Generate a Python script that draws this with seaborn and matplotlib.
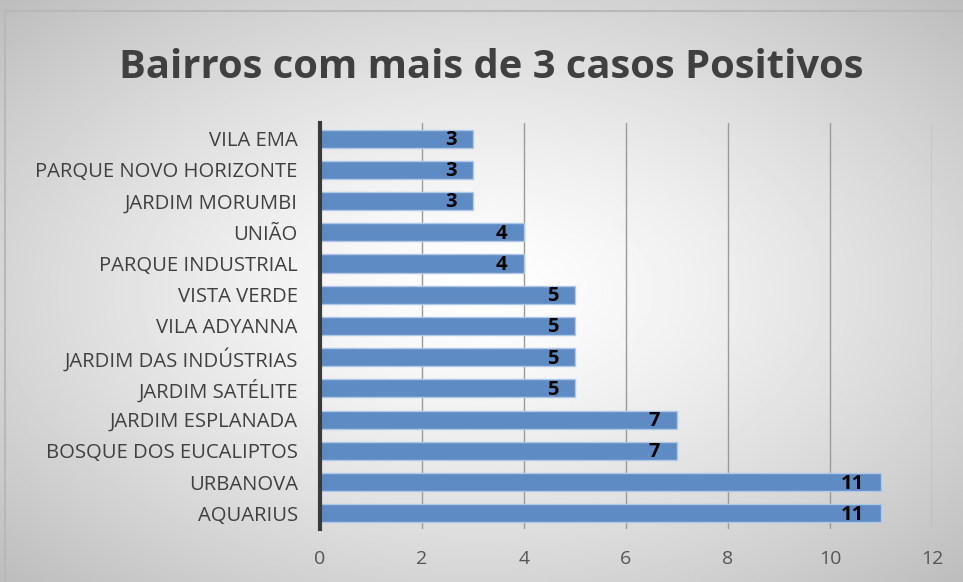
import numpy as np
import pandas as pd
import matplotlib
matplotlib.use("Agg")
import matplotlib.pyplot as plt
import seaborn as sns

# ── dados ─────────────────────────────────────────────
BAIRROS = [
    "VILA EMA", "PARQUE NOVO HORIZONTE", "JARDIM MORUMBI", "UNIÃO",
    "PARQUE INDUSTRIAL", "VISTA VERDE", "VILA ADYANNA", "JARDIM DAS INDÚSTRIAS",
    "JARDIM SATÉLITE", "JARDIM ESPLANADA", "BOSQUE DOS EUCALIPTOS",
    "URBANOVA", "AQUARIUS",
]
CASOS = [3, 3, 3, 4, 4, 5, 5, 5, 5, 7, 7, 11, 11]
XTICKS = [0, 2, 4, 6, 8, 10, 12]

TITULO = "Bairros com mais de 3 casos Positivos"
FONTE = ["Open Sans", "DejaVu Sans"]

sns.set_style("white")
plt.rcParams["font.family"] = FONTE

df = pd.DataFrame({"bairro": BAIRROS, "casos": CASOS})

fig = plt.figure(figsize=(9.63, 5.82), dpi=100)

# fundo com gradiente radial (branco no centro, cinza nas bordas)
bg = fig.add_axes([0, 0, 1, 1], zorder=-10)
yy, xx = np.mgrid[-1:1:300j, -1:1:500j]
r = np.sqrt(xx ** 2 + yy ** 2) / np.sqrt(2)
bg.imshow(1 - 0.26 * r ** 1.3, cmap="gray", vmin=0, vmax=1,
          extent=[0, 1, 0, 1], aspect="auto")
bg.plot([0.005, 0.005, 1.0], [0.0, 0.981, 0.981], color="#b8b8b8", lw=1.5)
bg.set_xlim(0, 1)
bg.set_ylim(0, 1)
bg.axis("off")

ax = fig.add_axes([0.3323, 0.0911, 0.6355, 0.6976])
ax.patch.set_alpha(0)
sns.barplot(data=df, y="bairro", x="casos", orient="h", ax=ax,
            color="#5f8bc4", saturation=1, width=0.58,
            edgecolor="#b0c8e8", linewidth=1.0, zorder=3)

for p, v in zip(ax.patches, CASOS):
    cy = p.get_y() + p.get_height() / 2
    ax.annotate(f"{v}", (v, cy), xytext=(-12, -1), textcoords="offset points",
                ha="right", va="center", fontsize=14.5, fontweight="bold",
                color="black", zorder=5)

ax.set_xlim(0, 12)
ax.set_xticks(XTICKS)
ax.set_xticklabels([str(t) for t in XTICKS], fontsize=14, color="#555555")
ax.tick_params(axis="y", labelsize=14.6, labelcolor="#404040", length=0, pad=16)
ax.tick_params(axis="x", length=0, pad=15)
ax.set_xlabel("")
ax.set_ylabel("")
ax.xaxis.grid(True, color="#9a9a9a", linewidth=1.0, zorder=0)
ax.yaxis.grid(False)
for s in ["top", "right", "bottom"]:
    ax.spines[s].set_visible(False)
ax.spines["left"].set_color("#3a3a3a")
ax.spines["left"].set_linewidth(3)
ax.spines["left"].set_zorder(6)

fig.text(0.51, 0.884, TITULO, ha="center", va="center", fontsize=28.8,
         fontweight="bold", color="#404040")

fig.savefig("out.png", dpi=100)
